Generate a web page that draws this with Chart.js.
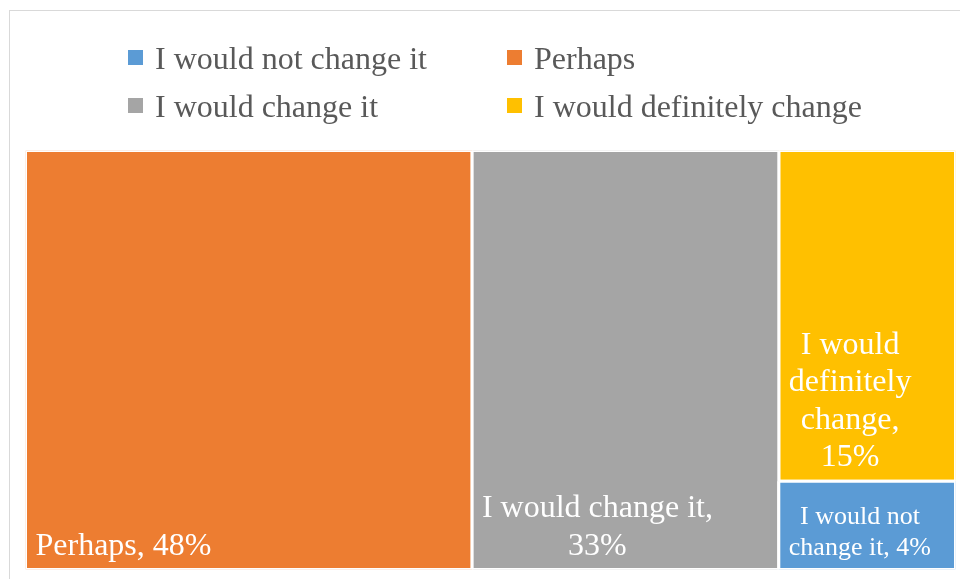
<!DOCTYPE html>
<html lang="en">
  <head>
    <meta charset="UTF-8" />
    <title>Treemap</title>
    <style>
      body {
        margin: 0;
        background-color: white;
        overflow: hidden;
      }
      .frame {
        position: absolute;
        left: 9px;
        top: 10px;
        width: 1000px;
        height: 700px;
        border: 1px solid #d9d9d9;
      }
      .chart-box {
        position: absolute;
        left: 0;
        top: 0;
        width: 960px;
        height: 579px;
      }
    </style>
  </head>
  <body>
    <div class="frame"></div>
    <div class="chart-box">
      <canvas id="treeChart" width="960" height="579"></canvas>
    </div>

    <script src="https://cdn.jsdelivr.net/npm/chart.js"></script>
    <script>
      // answers and their shares (%)
      const categories = ['I would not change it', 'Perhaps', 'I would change it', 'I would definitely change'];
      const shares = [4, 48, 33, 15];
      const colors = ['#5B9BD5', '#ED7D31', '#A5A5A5', '#FFC000'];

      const FONT = '"Liberation Serif", "Times New Roman", serif';
      const W = 100, H = 45; // data space of the plot, roughly the plot's aspect

      // squarified treemap layout in data units
      function worst(row, side) {
        const s = row.reduce((a, b) => a + b.v, 0);
        let m = 0;
        row.forEach(r => {
          m = Math.max(m, (side * side * r.v) / (s * s), (s * s) / (side * side * r.v));
        });
        return m;
      }
      function layoutRow(row, r, out) {
        const s = row.reduce((a, b) => a + b.v, 0);
        if (r.w >= r.h) {
          const t = s / r.h;
          let y = r.y;
          row.forEach(it => {
            const h = it.v / t;
            out[it.i] = { x0: r.x, y0: y, x1: r.x + t, y1: y + h };
            y += h;
          });
          return { x: r.x + t, y: r.y, w: r.w - t, h: r.h };
        } else {
          const t = s / r.w;
          let x = r.x;
          row.forEach(it => {
            const w = it.v / t;
            out[it.i] = { x0: x, y0: r.y, x1: x + w, y1: r.y + t };
            x += w;
          });
          return { x: r.x, y: r.y + t, w: r.w, h: r.h - t };
        }
      }
      function squarify(values) {
        const total = values.reduce((a, b) => a + b, 0);
        let rest = values
          .map((v, i) => ({ i: i, v: (v / total) * W * H }))
          .sort((a, b) => b.v - a.v);
        let rect = { x: 0, y: 0, w: W, h: H };
        let row = [];
        const out = [];
        while (rest.length) {
          const side = Math.min(rect.w, rect.h);
          if (row.length === 0 || worst(row.concat(rest[0]), side) <= worst(row, side)) {
            row.push(rest.shift());
          } else {
            rect = layoutRow(row, rect, out);
            row = [];
          }
        }
        if (row.length) layoutRow(row, rect, out);
        return out;
      }

      const rects = squarify(shares);

      const datasets = categories.map((name, i) => {
        const r = rects[i];
        return {
          label: name,
          share: shares[i],
          data: [
            { x: r.x0, y: r.y0 },
            { x: r.x1, y: r.y0 },
            { x: r.x1, y: r.y1 },
            { x: r.x0, y: r.y1 },
            { x: r.x0, y: r.y0 }
          ],
          backgroundColor: colors[i],
          borderColor: '#ffffff',
          borderWidth: 3,
          borderJoinStyle: 'miter',
          fill: 'shape',
          tension: 0,
          pointRadius: 0
        };
      });

      // legend drawn as a 2 column grid like the original
      const gridLegend = {
        id: 'gridLegend',
        afterDraw(chart) {
          const ctx = chart.ctx;
          const colX = [128, 507];
          const rowY = [69, 117];
          ctx.save();
          ctx.font = '32px ' + FONT;
          ctx.textBaseline = 'alphabetic';
          ctx.textAlign = 'left';
          chart.data.datasets.forEach((ds, i) => {
            const x = colX[i % 2];
            const y = rowY[Math.floor(i / 2)];
            ctx.fillStyle = ds.backgroundColor;
            ctx.fillRect(x, y - 19, 15, 15);
            ctx.fillStyle = '#595959';
            ctx.fillText(ds.label, x + 27, y);
          });
          ctx.restore();
        }
      };

      function wrap(ctx, text, maxW) {
        const words = text.split(' ');
        const lines = [];
        let cur = '';
        words.forEach(w => {
          const test = cur ? cur + ' ' + w : w;
          if (cur && ctx.measureText(test).width > maxW) {
            lines.push(cur);
            cur = w;
          } else {
            cur = test;
          }
        });
        if (cur) lines.push(cur);
        return lines;
      }

      // data labels inside each tile, anchored at the bottom
      const tileLabels = {
        id: 'tileLabels',
        afterDatasetsDraw(chart) {
          const ctx = chart.ctx;
          const xs = chart.scales.x, ys = chart.scales.y;
          ctx.save();
          ctx.fillStyle = '#ffffff';
          ctx.textBaseline = 'alphabetic';
          chart.data.datasets.forEach(ds => {
            const px = ds.data.map(p => xs.getPixelForValue(p.x));
            const py = ds.data.map(p => ys.getPixelForValue(p.y));
            const left = Math.min(...px), right = Math.max(...px);
            const top = Math.min(...py), bottom = Math.max(...py);
            const text = ds.label + ', ' + ds.share + '%';
            const maxW = right - left - 20;
            let size = 32;
            let lines;
            ctx.font = size + 'px ' + FONT;
            lines = wrap(ctx, text, maxW);
            if (lines.length * size * 1.18 > bottom - top - 10) {
              size = 26;
              ctx.font = size + 'px ' + FONT;
              lines = wrap(ctx, text, maxW);
            }
            const lh = size * 1.17;
            const blockW = Math.max(...lines.map(l => ctx.measureText(l).width));
            const cx = left + 10 + blockW / 2;
            ctx.textAlign = 'center';
            lines.forEach((l, k) => {
              const y = bottom - 15 - (lines.length - 1 - k) * lh;
              ctx.fillText(l, cx, y);
            });
          });
          ctx.restore();
        }
      };

      const ctx = document.getElementById('treeChart').getContext('2d');
      const treeChart = new Chart(ctx, {
        type: 'line',
        data: { datasets: datasets },
        options: {
          responsive: false,
          animation: false,
          layout: {
            padding: { left: 25.5, top: 150.5, right: 4.5, bottom: 9.5 }
          },
          scales: {
            x: { type: 'linear', min: 0, max: W, display: false },
            y: { type: 'linear', min: 0, max: H, reverse: true, display: false }
          },
          plugins: {
            legend: { display: false },
            tooltip: { enabled: false }
          }
        },
        plugins: [gridLegend, tileLabels]
      });
    </script>
  </body>
</html>
